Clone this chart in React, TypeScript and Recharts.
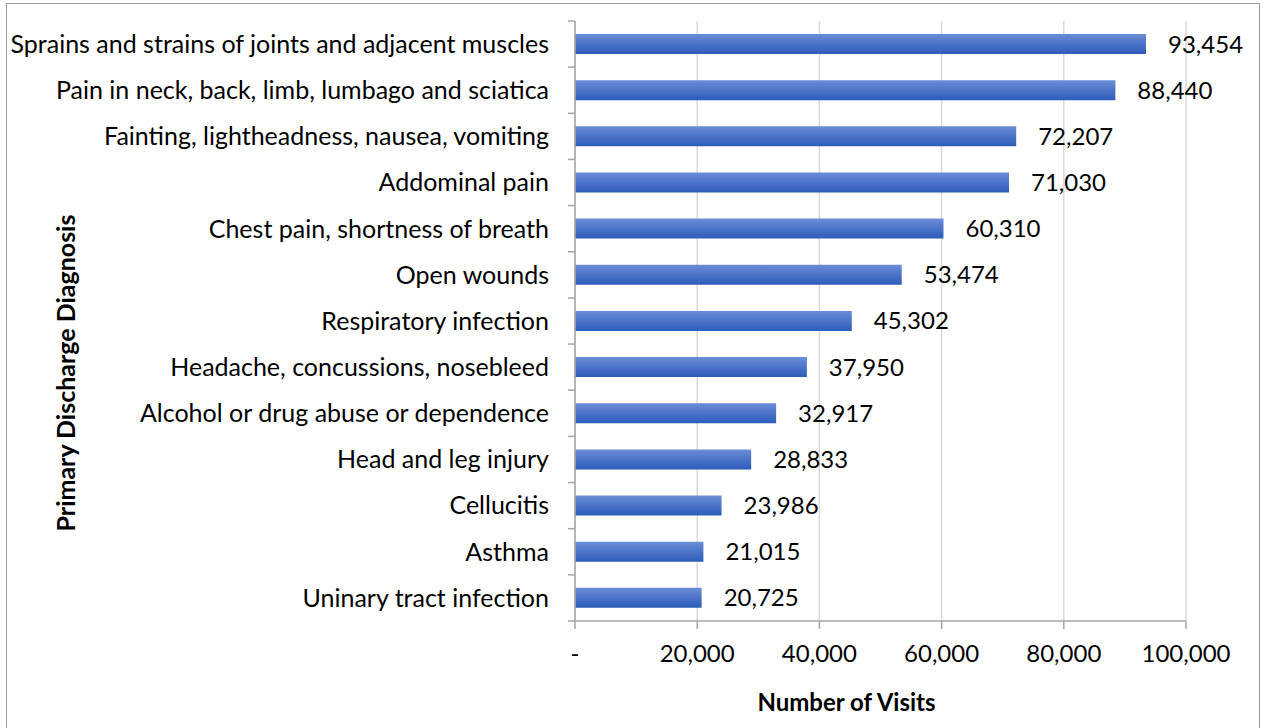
import { BarChart, Bar, XAxis, YAxis, CartesianGrid, LabelList, Label } from 'recharts';

const diagnoses = [
  'Sprains and strains of joints and adjacent muscles',
  'Pain in neck, back, limb, lumbago and sciatica',
  'Fainting, lightheadness, nausea, vomiting',
  'Addominal pain',
  'Chest pain, shortness of breath',
  'Open wounds',
  'Respiratory infection',
  'Headache, concussions, nosebleed',
  'Alcohol or drug abuse or dependence',
  'Head and leg injury',
  'Cellucitis',
  'Asthma',
  'Uninary tract infection',
];

const visits = [93454, 88440, 72207, 71030, 60310, 53474, 45302, 37950, 32917, 28833, 23986, 21015, 20725];

const xTicks = [0, 20000, 40000, 60000, 80000, 100000];

const data = diagnoses.map((name, i) => ({ name, visits: visits[i] }));

const FONT = 'Lato, "Open Sans", sans-serif';
const AXIS = '#a6a6a6';
const PLOT_H = 600;

const fmt = (v: number) => (v === 0 ? '-' : v.toLocaleString('en-US'));

// category tick: label plus Excel-style tick marks on the band edges
function CatTick(props: any) {
  const { x, y, payload, index } = props;
  const half = payload?.offset || PLOT_H / diagnoses.length / 2;
  const axisX = x + 26;
  return (
    <g>
      <line x1={axisX - 7} x2={axisX} y1={y - half} y2={y - half} stroke={AXIS} strokeWidth={1.5} />
      {index === diagnoses.length - 1 && (
        <line x1={axisX - 7} x2={axisX} y1={y + half} y2={y + half} stroke={AXIS} strokeWidth={1.5} />
      )}
      <text x={x} y={y} dy="0.355em" textAnchor="end" fill="#000" fontSize={25} fontFamily={FONT}>
        {payload.value}
      </text>
    </g>
  );
}

export default function App() {
  return (
    <div style={{ position: 'fixed', left: 0, top: 0, width: 1264, height: 728, background: '#fff', overflow: 'hidden' }}>
      <div
        style={{
          position: 'absolute',
          left: 6,
          top: 3,
          width: 1254,
          height: 760,
          border: '1.5px solid #9a9a9a',
          boxSizing: 'border-box',
        }}
      />
      <div style={{ position: 'absolute', left: 0, top: 0 }}>
        <BarChart
          width={1264}
          height={728}
          data={data}
          layout="vertical"
          margin={{ top: 21, right: 78, bottom: 0, left: 0 }}
        >
          <defs>
            <linearGradient id="barFill" x1="0" y1="0" x2="0" y2="1">
              <stop offset="0%" stopColor="#6a8dd6" />
              <stop offset="25%" stopColor="#5b80d0" />
              <stop offset="100%" stopColor="#2c5cb9" />
            </linearGradient>
          </defs>
          <CartesianGrid horizontal={false} stroke="#d9d9d9" strokeWidth={1.5} />
          <XAxis
            type="number"
            domain={[0, 100000]}
            ticks={xTicks}
            tickFormatter={fmt}
            height={107}
            tickSize={8}
            tickMargin={16}
            axisLine={{ stroke: AXIS, strokeWidth: 1.5 }}
            tickLine={{ stroke: AXIS, strokeWidth: 1.5 }}
            tick={{ fill: '#000', fontSize: 24, fontFamily: FONT }}
            interval={0}
          >
            <Label
              content={({ viewBox }: any) => (
                <text
                  x={viewBox.x + viewBox.width / 2 - 34}
                  y={viewBox.y + 80}
                  textAnchor="middle"
                  dominantBaseline="central"
                  fill="#000"
                  fontSize={24}
                  fontWeight="bold"
                  fontFamily={FONT}
                >
                  Number of Visits
                </text>
              )}
            />
          </XAxis>
          <YAxis
            type="category"
            dataKey="name"
            width={575}
            axisLine={{ stroke: AXIS, strokeWidth: 1.5 }}
            tickLine={false}
            tickMargin={26}
            tickSize={0}
            interval={0}
            tick={<CatTick />}
          >
            <Label
              content={({ viewBox }: any) => (
                <text
                  x={65}
                  y={viewBox.y + viewBox.height / 2 + 52}
                  transform={`rotate(-90, 65, ${viewBox.y + viewBox.height / 2 + 52})`}
                  textAnchor="middle"
                  dominantBaseline="central"
                  fill="#000"
                  fontSize={25}
                  fontWeight="bold"
                  fontFamily={FONT}
                >
                  Primary Discharge Diagnosis
                </text>
              )}
            />
          </YAxis>
          <Bar dataKey="visits" fill="url(#barFill)" barSize={20} isAnimationActive={false}>
            <LabelList
              dataKey="visits"
              position="right"
              offset={22}
              formatter={(v: any) => Number(v).toLocaleString('en-US')}
              fill="#000"
              fontSize={24}
              fontFamily={FONT}
            />
          </Bar>
        </BarChart>
      </div>
    </div>
  );
}
